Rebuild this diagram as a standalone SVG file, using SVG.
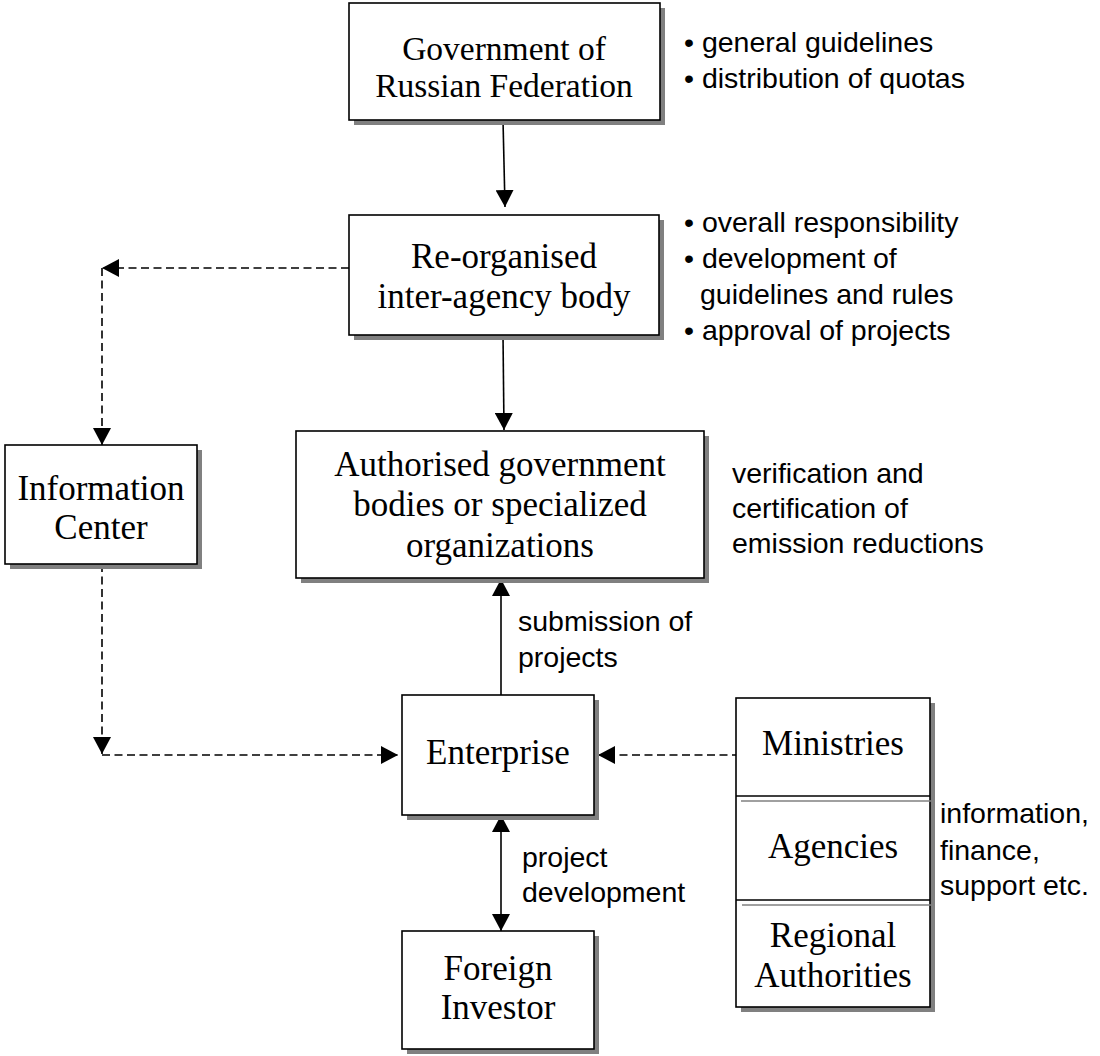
<svg xmlns="http://www.w3.org/2000/svg" width="1100" height="1056" viewBox="0 0 1100 1056">
<style>
.box{fill:#fff;stroke:#000;stroke-width:1.6}
.sh{fill:#808080}
.t{font-family:"Liberation Serif","Times New Roman",serif;font-size:35px;fill:#000;text-anchor:middle}
.tg{font-size:33.5px}
.s{font-family:"Liberation Sans",Arial,sans-serif;font-size:28.5px;fill:#000}
.c{fill:none;stroke:#000;stroke-width:1.6}
.d{fill:none;stroke:#000;stroke-width:1.6;stroke-dasharray:8 4.5}
.g{stroke:#808080;stroke-width:1.6}
</style>
<defs>
<marker id="ah" markerUnits="userSpaceOnUse" markerWidth="18" markerHeight="18" refX="17" refY="9" orient="auto">
<path d="M0,0 L17,9 L0,18 z" fill="#000"/>
</marker>
<marker id="ahs" markerUnits="userSpaceOnUse" markerWidth="18" markerHeight="18" refX="1" refY="9" orient="auto">
<path d="M18,0 L1,9 L18,18 z" fill="#000"/>
</marker>
</defs>
<rect width="1100" height="1056" fill="#fff"/>

<g id="connectors">
<line class="c" x1="503" y1="120" x2="505" y2="207" marker-end="url(#ah)"/>
<line class="c" x1="503" y1="335" x2="504" y2="430" marker-end="url(#ah)"/>
<line class="c" x1="501" y1="695" x2="501" y2="579" marker-end="url(#ah)"/>
<line class="c" x1="501" y1="815" x2="501" y2="931" marker-start="url(#ahs)" marker-end="url(#ah)"/>
<path class="d" d="M349,268 H102" marker-end="url(#ah)"/>
<path class="d" d="M102,268 V445" marker-end="url(#ah)"/>
<path class="d" d="M102,564 V754" marker-end="url(#ah)"/>
<path class="d" d="M102,755 H398" marker-end="url(#ah)"/>
<path class="d" d="M740,755 H598" marker-end="url(#ah)"/>
</g>

<g id="gov">
<rect class="sh" x="354" y="8" width="311" height="117"/>
<rect class="box" x="349" y="3" width="311" height="117"/>
<text class="t tg" x="504" y="59.5">Government of</text>
<text class="t tg" x="504" y="97">Russian Federation</text>
</g>

<g id="reorg">
<rect class="sh" x="354" y="220" width="310" height="120"/>
<rect class="box" x="349" y="215" width="310" height="120"/>
<text class="t" x="504" y="268">Re-organised</text>
<text class="t" x="504" y="308">inter-agency body</text>
</g>

<g id="authorised">
<rect class="sh" x="301" y="436" width="408" height="147"/>
<rect class="box" x="296" y="431" width="408" height="147"/>
<text class="t" x="500" y="476">Authorised government</text>
<text class="t" x="500" y="516">bodies or specialized</text>
<text class="t" x="500" y="557">organizations</text>
</g>

<g id="infocenter">
<rect class="sh" x="10" y="450" width="192" height="119"/>
<rect class="box" x="5" y="445" width="192" height="119"/>
<text class="t" x="101" y="500">Information</text>
<text class="t" x="101" y="539">Center</text>
</g>

<g id="enterprise">
<rect class="sh" x="407" y="700" width="192" height="120"/>
<rect class="box" x="402" y="695" width="192" height="120"/>
<text class="t" x="498" y="764">Enterprise</text>
</g>

<g id="investor">
<rect class="sh" x="407" y="936" width="192" height="118"/>
<rect class="box" x="402" y="931" width="192" height="118"/>
<text class="t" x="498" y="980">Foreign</text>
<text class="t" x="498" y="1019">Investor</text>
</g>

<g id="ministries">
<rect class="sh" x="741" y="703" width="194" height="309"/>
<rect class="box" x="736" y="698" width="194" height="309"/>
<line class="c" x1="736" y1="796" x2="930" y2="796"/>
<line class="g" x1="741" y1="801" x2="932" y2="801"/>
<line class="c" x1="736" y1="900" x2="930" y2="900"/>
<line class="g" x1="742" y1="905" x2="935" y2="905"/>
<text class="t" x="833" y="755">Ministries</text>
<text class="t" x="833" y="858">Agencies</text>
<text class="t" x="833" y="947">Regional</text>
<text class="t" x="833" y="987">Authorities</text>
</g>

<g id="labels">
<text class="s" x="684" y="52">• general guidelines</text>
<text class="s" x="684" y="88">• distribution of quotas</text>
<text class="s" x="684" y="232">• overall responsibility</text>
<text class="s" x="684" y="268">• development of</text>
<text class="s" x="700" y="304">guidelines and rules</text>
<text class="s" x="684" y="340">• approval of projects</text>
<text class="s" x="732" y="483">verification and</text>
<text class="s" x="732" y="518">certification of</text>
<text class="s" x="732" y="553">emission reductions</text>
<text class="s" x="518" y="631">submission of</text>
<text class="s" x="518" y="667">projects</text>
<text class="s" x="522" y="867">project</text>
<text class="s" x="522" y="902">development</text>
<text class="s" x="940" y="823">information,</text>
<text class="s" x="940" y="860">finance,</text>
<text class="s" x="940" y="895">support etc.</text>
</g>
</svg>
